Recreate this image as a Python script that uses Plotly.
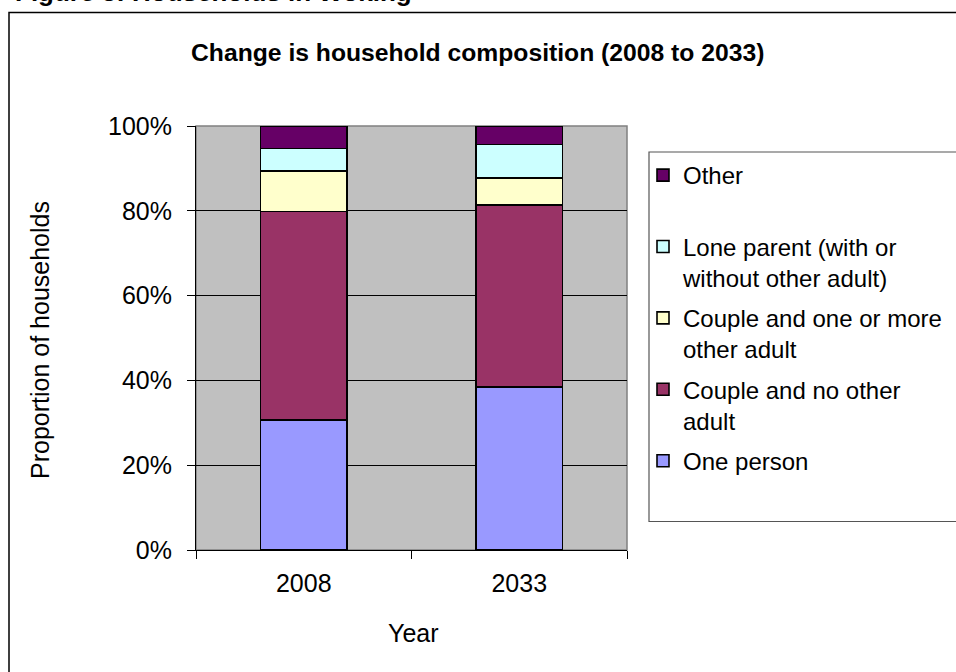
import plotly.graph_objects as go

years = ["2008", "2033"]
series_names = [
    "One person",
    "Couple and no other<br>adult",
    "Couple and one or more<br>other adult",
    "Lone parent (with or<br>without other adult)",
    "Other<br> ",
]
one_person = [0.307, 0.385]
couple_no_other = [0.491, 0.429]
couple_plus_other = [0.096, 0.063]
lone_parent = [0.053, 0.079]
other = [0.053, 0.044]
series_values = [one_person, couple_no_other, couple_plus_other, lone_parent, other]
series_colors = ["#9999FF", "#993366", "#FFFFCC", "#CCFFFF", "#660066"]
y_ticks = [0, 0.2, 0.4, 0.6, 0.8, 1.0]
y_tick_labels = ["0%", "20%", "40%", "60%", "80%", "100%"]

FONT = "Liberation Sans, Arial, sans-serif"

fig = go.Figure()
n = len(series_names)
for i, (name, vals, col) in enumerate(zip(series_names, series_values, series_colors)):
    fig.add_trace(go.Bar(
        x=years, y=vals, name=name,
        marker=dict(color=col, line=dict(color="black", width=1.6)),
        legendgroup=f"g{i}", legendrank=n - i,
    ))

# pixel helpers (plot area: x 196..627, y 126..550)
L, R, T, B = 196, 627, 126, 550
def px(x):
    return (x - L) / (R - L)
def py(y):
    return (B - y) / (B - T)

fig.update_layout(
    width=956, height=672,
    margin=dict(l=L, r=956 - R, t=T, b=672 - B, autoexpand=False),
    barmode="stack", bargap=0.6,
    plot_bgcolor="#C0C0C0", paper_bgcolor="white",
    font=dict(family=FONT, size=24, color="black"),
    showlegend=True,
    legend=dict(
        x=px(643), y=py(153), xanchor="left", yanchor="top",
        xref="paper", yref="paper",
        traceorder="grouped", tracegroupgap=6, valign="top",
        bgcolor="rgba(0,0,0,0)", borderwidth=0,
        font=dict(family=FONT, size=24),
    ),
    xaxis=dict(
        type="category", tickson="boundaries", ticks="outside", ticklen=8,
        tickcolor="black", showline=True, linecolor="black", linewidth=1,
        showgrid=False, ticklabelstandoff=11,
        tickfont=dict(size=25),
    ),
    yaxis=dict(
        range=[0, 1], tickvals=y_ticks, ticktext=y_tick_labels,
        ticks="outside", ticklen=8, tickcolor="black",
        showline=True, linecolor="black", linewidth=1,
        showgrid=True, gridcolor="black", gridwidth=1, zeroline=False,
        ticklabelstandoff=10, tickfont=dict(size=25),
    ),
    shapes=[
        dict(type="rect", xref="paper", yref="paper", x0=0, x1=1, y0=0, y1=1,
             line=dict(color="#808080", width=1.5), layer="below"),
        dict(type="rect", xref="paper", yref="paper", x0=px(649), x1=px(1100),
             y0=py(521.5), y1=py(152), line=dict(color="#555555", width=1.2),
             fillcolor="rgba(0,0,0,0)"),
        dict(type="rect", xref="paper", yref="paper", x0=px(9), x1=px(1200),
             y0=py(800), y1=py(12.5), line=dict(color="black", width=1.5),
             fillcolor="rgba(0,0,0,0)"),
    ],
    annotations=[
        dict(text="<b>Change is household composition (2008 to 2033)</b>",
             xref="paper", yref="paper", x=px(477), y=py(52),
             xanchor="center", yanchor="middle", showarrow=False,
             font=dict(size=24.7, family=FONT)),
        dict(text="<b>Figure 3: Households in Woking</b>",
             xref="paper", yref="paper", x=px(13), y=py(-8),
             xanchor="left", yanchor="middle", showarrow=False,
             font=dict(size=26, family=FONT)),
        dict(text="Proportion of households", textangle=-90,
             xref="paper", yref="paper", x=px(40), y=py(340),
             xanchor="center", yanchor="middle", showarrow=False,
             font=dict(size=25, family=FONT)),
        dict(text="Year",
             xref="paper", yref="paper", x=px(413), y=py(633),
             xanchor="center", yanchor="middle", showarrow=False,
             font=dict(size=25, family=FONT)),
    ],
)

fig.write_html("out.html")
